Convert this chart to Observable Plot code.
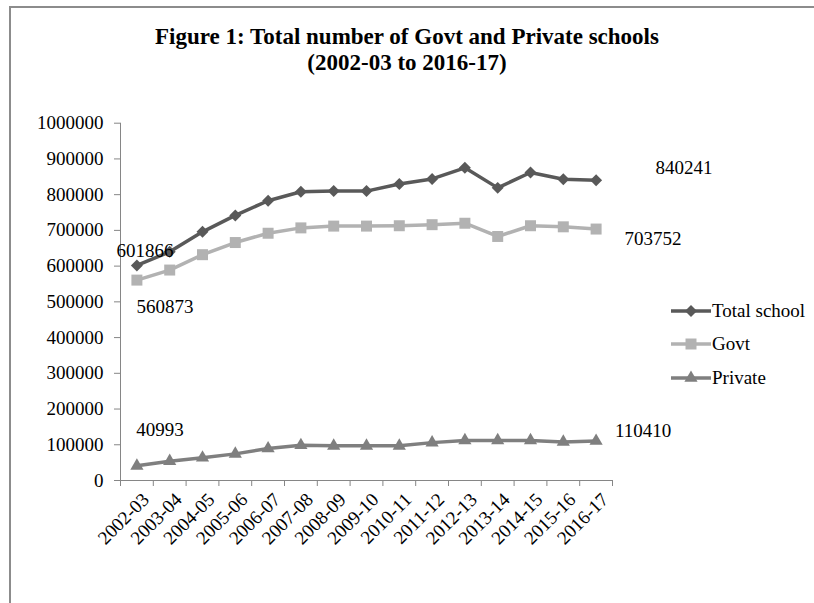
<!DOCTYPE html>
<html>
<head>
<meta charset="utf-8">
<script src="https://cdn.jsdelivr.net/npm/d3@7"></script>
<script src="https://cdn.jsdelivr.net/npm/@observablehq/plot@0.6"></script>
<style>
  html, body { margin: 0; padding: 0; background: #fff; }
  #chart { position: relative; width: 814px; height: 603px; overflow: hidden;
           font-family: "Liberation Serif", "Times New Roman", serif; color: #000; }
  #frame { position: absolute; left: 9px; top: 6px; width: 900px; height: 700px;
           border: 2px solid #8c8c8c; box-sizing: border-box; }
  #plot { position: absolute; left: 0; top: 0; }
  #title { position: absolute; left: 0; top: 23.5px; width: 814px; text-align: center;
           font-weight: bold; font-size: 23px; line-height: 26px; }
  .legend-row { position: absolute; left: 671px; height: 20px; display: flex; align-items: center;
                font-size: 19px; white-space: nowrap; }
  .legend-row svg { display: block; margin-right: 1px; }
</style>
</head>
<body>
<div id="chart">
  <div id="frame"></div>
  <div id="plot"></div>
  <div id="title">Figure 1: Total number of Govt and Private schools<br>(2002-03 to 2016-17)</div>
  <div id="legend"></div>
</div>
<script>
// School years on the category axis
const categories = ["2002-03", "2003-04", "2004-05", "2005-06", "2006-07", "2007-08", "2008-09",
  "2009-10", "2010-11", "2011-12", "2012-13", "2013-14", "2014-15", "2015-16", "2016-17"];

// Number of schools per year
const totalSchools = [601866, 640000, 696000, 742000, 783000, 808000, 810000, 810000,
  830000, 844000, 875000, 819000, 862000, 843000, 840241];
const govtSchools = [560873, 589000, 632000, 666000, 692000, 707000, 712000, 712000,
  713000, 716000, 720000, 683000, 713000, 710000, 703752];
const privateSchools = [40993, 54000, 63500, 74500, 89500, 98500, 97000, 97000,
  97000, 106000, 112000, 112000, 112000, 108000, 110410];

// Value axis ticks
const yTicks = [0, 100000, 200000, 300000, 400000, 500000, 600000, 700000, 800000, 900000, 1000000];

const seriesNames = ["Total school", "Govt", "Private"];

const series = [
  { name: seriesNames[0], values: totalSchools, color: "#595959", symbol: "diamond2", r: 5.4 },
  { name: seriesNames[1], values: govtSchools, color: "#b2b2b2", symbol: "square", r: 6.2 },
  { name: seriesNames[2], values: privateSchools, color: "#7f7f7f", symbol: "triangle", r: 4.9 }
];

const idx = categories.map((_, i) => i);
const last = idx.length - 1;
const axisColor = "#868686";

const seriesMarks = series.flatMap(s => [
  Plot.line(idx, { x: i => i, y: i => s.values[i], stroke: s.color, strokeWidth: 3.5 }),
  Plot.dot(idx, { x: i => i, y: i => s.values[i], symbol: s.symbol, r: s.r, fill: s.color, stroke: "none" })
]);

// Value labels at the first and last year of each series
const endLabel = (values, i, dx, dy) =>
  Plot.text([i], { x: d => d, y: d => values[d], text: d => String(values[d]), dx, dy,
                   textAnchor: "middle", fill: "#000" });

const chart = Plot.plot({
  width: 814,
  height: 603,
  marginTop: 122.7,
  marginBottom: 123,
  marginLeft: 120,
  marginRight: 202,
  x: { type: "linear", domain: [-0.5, last + 0.5] },
  y: { domain: [0, 1000000] },
  style: { fontFamily: "'Liberation Serif', 'Times New Roman', serif", fontSize: "19px",
           background: "transparent", color: "#000", overflow: "visible" },
  marks: [
    Plot.axisY({ ticks: yTicks, tickSize: 6, tickPadding: 11, tickFormat: d3.format("d"),
                 stroke: axisColor, fill: "#000", label: null }),
    Plot.axisX({ ticks: d3.range(-0.5, last + 1, 1), tickSize: 6, tickFormat: () => "",
                 stroke: axisColor, label: null }),
    Plot.axisX({ ticks: idx, tickSize: 0, tickPadding: 16, tickRotate: -45, dx: 9,
                 tickFormat: i => categories[i], fill: "#000", label: null }),
    Plot.ruleX([-0.5], { stroke: axisColor }),
    Plot.ruleY([0], { stroke: axisColor }),
    ...seriesMarks,
    endLabel(totalSchools, 0, 8, -15),
    endLabel(govtSchools, 0, 28, 27),
    endLabel(privateSchools, 0, 23, -36),
    endLabel(totalSchools, last, 88, -12),
    endLabel(govtSchools, last, 57, 10),
    endLabel(privateSchools, last, 47, -10)
  ]
});
document.getElementById("plot").appendChild(chart);

// Legend: line swatch with the series marker, then the name
const legend = d3.select("#legend");
const rowCenters = [310.7, 343.5, 377.5];
series.forEach((s, k) => {
  const row = legend.append("div").attr("class", "legend-row").style("top", (rowCenters[k] - 10) + "px");
  const sw = row.append("svg").attr("width", 40).attr("height", 20);
  sw.append("line").attr("x1", 0).attr("x2", 40).attr("y1", 10).attr("y2", 10)
    .attr("stroke", s.color).attr("stroke-width", 3.5);
  const symType = { diamond2: d3.symbolDiamond2, square: d3.symbolSquare, triangle: d3.symbolTriangle }[s.symbol];
  sw.append("path").attr("transform", "translate(20,10)")
    .attr("d", d3.symbol(symType, Math.PI * s.r * s.r)()).attr("fill", s.color);
  row.append("span").text(s.name);
});
</script>
</body>
</html>
